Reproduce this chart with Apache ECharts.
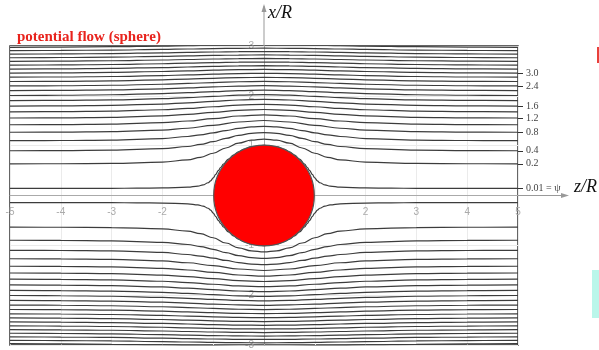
<!DOCTYPE html>
<html><head><meta charset="utf-8">
<script src="https://cdn.jsdelivr.net/npm/echarts@6/dist/echarts.min.js"></script>
<style>html,body{margin:0;padding:0;background:#fff}#c{width:599px;height:350px}</style>
</head><body><div id="c"></div>
<script>
// Stream lines of potential flow past a sphere (upper half, z >= 0; the flow is
// symmetric fore/aft and about the axis, so the profiles are mirrored).
const zFar  = [0, 0.5, 1, 1.5, 2, 3, 4, 5];
const zNear = [0, 0.25, 0.5, 0.75, 1, 1.25, 1.5, 2, 3, 4, 5];
const zFine = [0, 0.25, 0.4, 0.5, 0.6, 0.7, 0.8, 0.85, 0.9, 0.95, 1.0, 1.05, 1.1, 1.2, 1.3, 1.5, 2, 2.5, 3, 4, 5];

// x/R of each stream line, read at the z/R stations above
const psi001 = [1.0067, 0.9756, 0.9252, 0.8762, 0.813, 0.7317, 0.6287, 0.5668, 0.4977, 0.4236, 0.3524, 0.2953, 0.2554, 0.2114, 0.1895, 0.1679, 0.1511, 0.1461, 0.1441, 0.1425, 0.1419];
const psi02 = [1.1326, 1.1115, 1.0497, 0.9535, 0.848, 0.7656, 0.7152, 0.669, 0.6437, 0.6373, 0.6347];
const psi04 = [1.2619, 1.2477, 1.2057, 1.1451, 1.0797, 1.024, 0.9837, 0.939, 0.9093, 0.901, 0.8976];
const psi06 = [1.3862, 1.3756, 1.3461, 1.3037, 1.2575, 1.2161, 1.1835, 1.1432, 1.1126, 1.1032, 1.0996];
const psi08 = [1.5048, 1.4751, 1.4089, 1.3497, 1.3138, 1.2835, 1.2736, 1.2697];
const psi10 = [1.618, 1.5953, 1.5437, 1.4951, 1.4632, 1.4339, 1.4235, 1.4195];
const psi12 = [1.7261, 1.7081, 1.6668, 1.6262, 1.5976, 1.5696, 1.5591, 1.5548];
const psi14 = [1.8294, 1.8149, 1.7812, 1.7465, 1.7209, 1.6941, 1.6837, 1.6794];
const psi16 = [1.9284, 1.9164, 1.8883, 1.8583, 1.8353, 1.81, 1.7996, 1.7953];
const psi18 = [2.0234, 2.0135, 1.9896, 1.9636, 1.9427, 1.9187, 1.9084, 1.904];
const psi20 = [2.1149, 2.1065, 2.086, 2.0631, 2.0442, 2.0215, 2.0113, 2.007];
const psi22 = [2.2031, 2.1959, 2.1782, 2.1579, 2.1406, 2.1191, 2.1091, 2.1045];
const psi24 = [2.2884, 2.2822, 2.2667, 2.2485, 2.2327, 2.2124, 2.2025, 2.198];
const psi26 = [2.371, 2.3656, 2.3519, 2.3356, 2.3211, 2.3018, 2.2921, 2.2872];
const psi28 = [2.4511, 2.4463, 2.4342, 2.4195, 2.406, 2.3877, 2.3783, 2.3736];
const psi30 = [2.529, 2.5247, 2.5139, 2.5004, 2.488, 2.4706, 2.4614, 2.4565];
const psi32 = [2.6046, 2.6008, 2.591, 2.5788, 2.5673, 2.5508, 2.5418, 2.537];
const psi34 = [2.6783, 2.6749, 2.666, 2.6549, 2.6442, 2.6285, 2.6197, 2.6147];
const psi36 = [2.7502, 2.7471, 2.7391, 2.7289, 2.7189, 2.7039, 2.6954, 2.6906];
const psi38 = [2.8204, 2.8176, 2.8103, 2.8008, 2.7915, 2.7772, 2.7689, 2.764];
const psi40 = [2.889, 2.8864, 2.8797, 2.871, 2.8622, 2.8486, 2.8405, 2.8358];
const psi42 = [2.9561, 2.9537, 2.9476, 2.9395, 2.9313, 2.9183, 2.9103, 2.9056];
const psi44 = [3.0217, 3.0196, 3.0139, 3.0064, 2.9987, 2.9862, 2.9785, 2.974];

// labelled stream lines (value of psi at right edge)
const labelText  = ['3.0', '2.4', '1.6', '1.2', '0.8', '0.4', '0.2', '0.01 = \u03C8'];
const labelLines = [psi30, psi24, psi16, psi12, psi08, psi04, psi02, psi001];

// axis tick labels drawn next to the crossing axes
const zTickLabels = [-5, -4, -3, -2, 2, 3, 4, 5];
const xTickLabels = [3, 2, 1, -1, -2, -3];

// sphere: centre z, centre x, radius
const sphere = [[0, 0, 1]];

const lines = [
  [zFine, psi001], [zNear, psi02], [zNear, psi04], [zNear, psi06],
  [zFar, psi08], [zFar, psi10], [zFar, psi12], [zFar, psi14], [zFar, psi16],
  [zFar, psi18], [zFar, psi20], [zFar, psi22], [zFar, psi24], [zFar, psi26],
  [zFar, psi28], [zFar, psi30], [zFar, psi32], [zFar, psi34], [zFar, psi36],
  [zFar, psi38], [zFar, psi40], [zFar, psi42], [zFar, psi44]
];

function profile(zs, xs, sign) {
  const pts = [];
  for (let i = zs.length - 1; i > 0; i--) pts.push([-zs[i], sign * xs[i]]);
  for (let i = 0; i < zs.length; i++) pts.push([zs[i], sign * xs[i]]);
  return pts;
}

const series = [];
lines.forEach(([zs, xs]) => {
  [1, -1].forEach(sign => {
    series.push({
      type: 'line', data: profile(zs, xs, sign), showSymbol: false, symbol: 'none',
      smooth: 0.4, smoothMonotone: 'x', silent: true, z: 3,
      lineStyle: { color: '#3c3c3c', width: 1.2 }
    });
  });
});
series.push({
  type: 'custom', data: sphere, z: 10, silent: true,
  renderItem: (params, api) => {
    const c = api.coord([api.value(0), api.value(1)]);
    const s = api.size([api.value(2), api.value(2)]);
    return { type: 'circle', shape: { cx: c[0], cy: c[1], r: (s[0] + s[1]) / 2 },
      style: { fill: '#ff0000', stroke: '#555', lineWidth: 1.2 } };
  }
});
// z/R tick labels below the horizontal axis
series.push({
  type: 'custom', data: zTickLabels.map(v => [v, 0]), z: 2, silent: true, clip: false,
  renderItem: (params, api) => {
    const c = api.coord([api.value(0), api.value(1)]);
    return { type: 'text', x: c[0], y: c[1] + 17,
      style: { text: String(api.value(0)), fill: '#aaa', font: '10px "Liberation Sans"', align: 'center', verticalAlign: 'middle' } };
  }
});
// x/R tick labels left of the vertical axis
series.push({
  type: 'custom', data: xTickLabels.map(v => [0, v]), z: 2, silent: true, clip: false,
  renderItem: (params, api) => {
    const c = api.coord([api.value(0), api.value(1)]);
    return { type: 'text', x: c[0] - 10, y: c[1],
      style: { text: String(api.value(1)), fill: '#aaa', font: '10px "Liberation Sans"', align: 'right', verticalAlign: 'middle' } };
  }
});

const tickVals = labelLines.map(a => a[a.length - 1]);

const chart = echarts.init(document.getElementById('c'));
const option = {
  animation: false,
  backgroundColor: '#fff',
  title: { text: 'potential flow (sphere)', left: 12, top: 25,
    textStyle: { color: '#e8231d', fontFamily: 'Liberation Serif', fontWeight: 'bold', fontSize: 15 } },
  grid: { left: 10, right: 81, top: 46, bottom: 5, containLabel: false, outerBoundsMode: 'none',
    show: true, borderColor: '#333', borderWidth: 1.5, backgroundColor: 'transparent' },
  xAxis: {
    type: 'value', min: -5, max: 5, interval: 1,
    axisLine: { onZero: true, lineStyle: { color: '#aaa', width: 1 } },
    axisTick: { show: false },
    axisLabel: { show: false },
    splitLine: { show: true, lineStyle: { color: '#ebebeb', width: 1 } }
  },
  yAxis: [{
    type: 'value', min: -3, max: 3, interval: 1,
    axisLine: { onZero: true, lineStyle: { color: '#aaa', width: 1 } },
    axisTick: { show: false },
    axisLabel: { show: false },
    splitLine: { show: true, lineStyle: { color: '#ebebeb', width: 1 } }
  }, {
    type: 'value', min: -3, max: 3, position: 'right',
    axisLine: { show: false, onZero: false },
    axisTick: { show: true, length: 5, customValues: tickVals, lineStyle: { color: '#333' } },
    axisLabel: { customValues: tickVals, margin: 8, color: '#444', fontSize: 10, fontFamily: 'Liberation Serif',
      formatter: v => { const i = tickVals.findIndex(t => Math.abs(t - v) < 1e-6); return i >= 0 ? labelText[i] : ''; } },
    splitLine: { show: false }
  }],
  series: series
};
chart.setOption(option);

const pO = chart.convertToPixel({ xAxisIndex: 0, yAxisIndex: 0 }, [0, 0]);
const pTop = chart.convertToPixel({ xAxisIndex: 0, yAxisIndex: 0 }, [0, 3]);
const pRight = chart.convertToPixel({ xAxisIndex: 0, yAxisIndex: 0 }, [5, 0]);
chart.setOption({
  graphic: [
    { type: 'line', shape: { x1: pTop[0], y1: pTop[1], x2: pTop[0], y2: 6 }, style: { stroke: '#999', lineWidth: 1 }, z: 20 },
    { type: 'polygon', shape: { points: [[pTop[0] - 2.5, 12], [pTop[0] + 2.5, 12], [pTop[0], 4]] }, style: { fill: '#999' }, z: 20 },
    { type: 'line', shape: { x1: pRight[0], y1: pO[1], x2: 566, y2: pO[1] }, style: { stroke: '#999', lineWidth: 1 }, z: 20 },
    { type: 'polygon', shape: { points: [[561, pO[1] - 2.5], [561, pO[1] + 2.5], [569, pO[1]]] }, style: { fill: '#999' }, z: 20 },
    { type: 'text', left: pTop[0] + 4, top: 4, style: { text: 'x/R', font: 'italic 18px "Liberation Serif"', fill: '#111' }, z: 20 },
    { type: 'text', left: 574, top: pO[1] - 17, style: { text: 'z/R', font: 'italic 18px "Liberation Serif"', fill: '#111' }, z: 20 },
    { type: 'rect', shape: { x: 597, y: 47, width: 2, height: 16 }, style: { fill: '#e8403a' }, z: 20 },
    { type: 'rect', shape: { x: 592, y: 270, width: 7, height: 48 }, style: { fill: '#baf6ea' }, z: 20 }
  ]
});
</script></body></html>
